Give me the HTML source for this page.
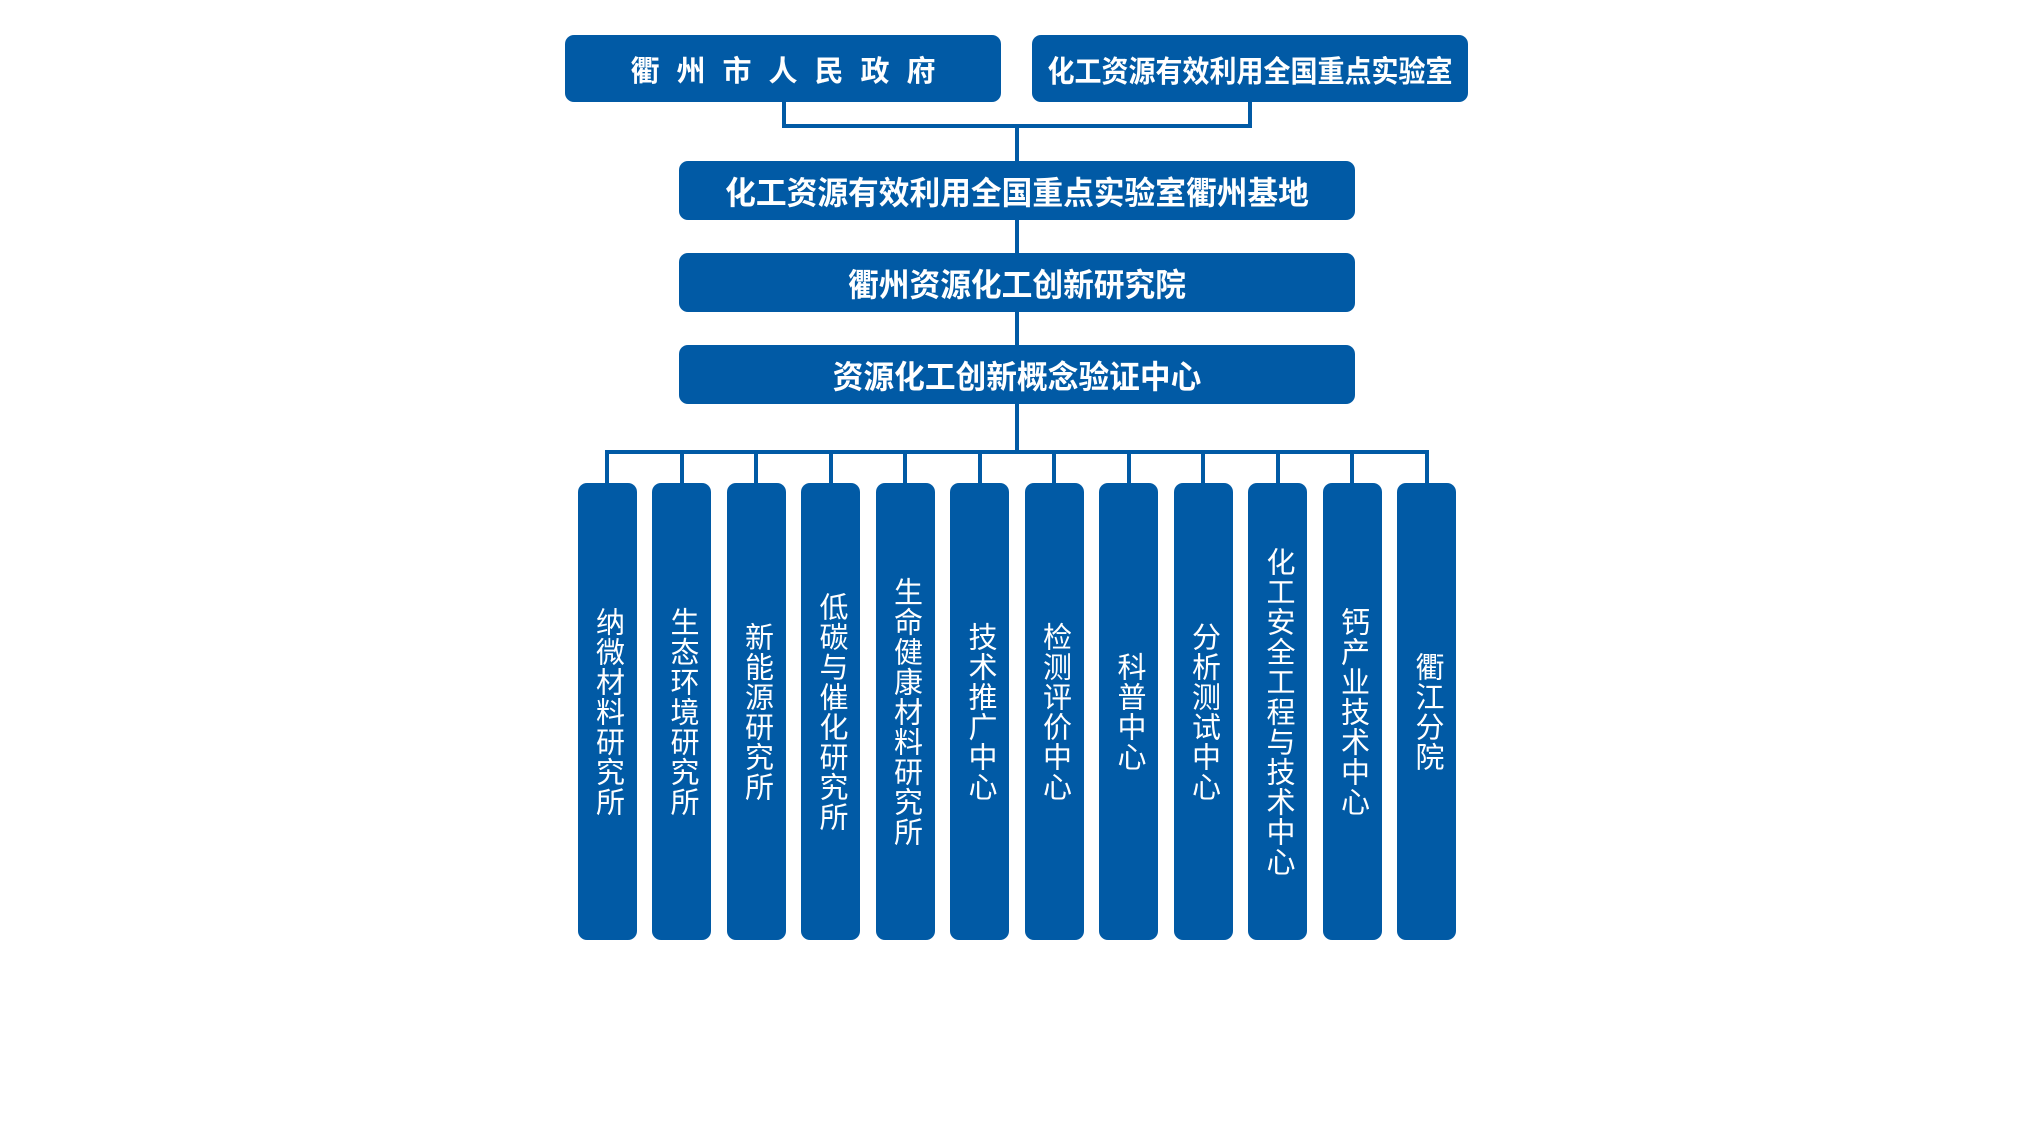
<!DOCTYPE html>
<html><head><meta charset="utf-8"><style>
body{margin:0;width:2032px;height:1143px;background:#fff;position:relative;overflow:hidden;font-family:"Liberation Sans","Noto Sans CJK SC",sans-serif}
.b{position:absolute;background:#015aa5;color:#fff;border-radius:9px;display:flex;align-items:center;justify-content:center;font-weight:bold;font-size:29px;white-space:nowrap}
.b span{display:inline-block}
.l{position:absolute;background:#015aa5}
.c{position:absolute;top:483px;width:59px;height:457px;background:#015aa5;border-radius:9px;color:#fff;display:flex;align-items:center;justify-content:center;writing-mode:vertical-rl;font-size:29px;line-height:1;letter-spacing:1px;text-orientation:upright}
</style></head><body>
<div class="b" style="left:565px;top:35px;width:436px;height:67px;letter-spacing:17px;padding-left:17px;box-sizing:border-box">衢州市人民政府</div>
<div class="b" style="left:1032px;top:35px;width:436px;height:67px"><span style="font-size:30px;transform:scaleX(0.9)">化工资源有效利用全国重点实验室</span></div>
<div class="l" style="left:782px;top:102px;width:4px;height:26px"></div>
<div class="l" style="left:1248px;top:102px;width:4px;height:26px"></div>
<div class="l" style="left:782px;top:124px;width:470px;height:4px"></div>
<div class="l" style="left:1015px;top:124px;width:4px;height:330px"></div>
<div class="b" style="left:679px;top:161px;width:676px;height:59px"><span style="font-size:32px;transform:scaleX(0.96)">化工资源有效利用全国重点实验室衢州基地</span></div>
<div class="b" style="left:679px;top:253px;width:676px;height:59px"><span style="font-size:32px;transform:scaleX(0.96)">衢州资源化工创新研究院</span></div>
<div class="b" style="left:679px;top:345px;width:676px;height:59px"><span style="font-size:32px;transform:scaleX(0.96)">资源化工创新概念验证中心</span></div>
<div class="l" style="left:605px;top:450px;width:823px;height:4px"></div>
<div id="cols"></div>
<script>
var n=["纳微材料研究所","生态环境研究所","新能源研究所","低碳与催化研究所","生命健康材料研究所","技术推广中心","检测评价中心","科普中心","分析测试中心","化工安全工程与技术中心","钙产业技术中心","衢江分院"];
var h="";
for(var i=0;i<12;i++){var cx=607+i*74.5;
h+='<div class="l" style="left:'+(cx-2)+'px;top:450px;width:4px;height:36px"></div>';
h+='<div class="c" style="left:'+(cx-29.5)+'px">'+n[i]+'</div>';}
document.getElementById("cols").innerHTML=h;
</script>
</body></html>
